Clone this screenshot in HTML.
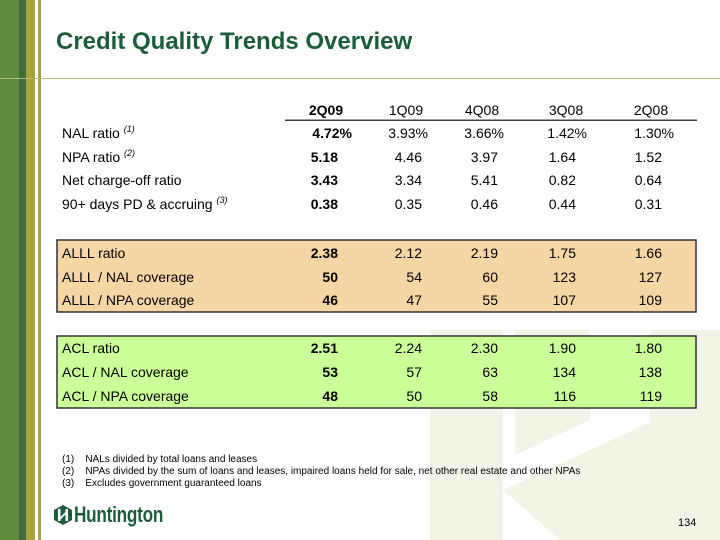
<!DOCTYPE html>
<html><head><meta charset="utf-8"><style>
body{margin:0;}
#s{position:relative;width:720px;height:540px;background:#fff;overflow:hidden;font-family:"Liberation Sans",sans-serif;color:#000;}
.a{position:absolute;white-space:nowrap;}
.r{font-size:14px;line-height:16px;}
.b{font-weight:bold;}
sup{font-size:9px;font-style:italic;vertical-align:6px;line-height:0;}
.fn{font-size:10px;line-height:12px;}
</style></head><body>
<div id="s">
<svg class="a" style="left:0;top:0" width="720" height="540">
<g fill="#f2f4e8">
<polygon points="430,330 503,330 503,540 430,540"/>
<polygon points="515,330 590,330 590,420 515,455"/>
<polygon points="650,330 720,330 720,420 650,455"/>
<polygon points="503,490 720,390 720,540 560,540"/>
</g>
<rect x="0" y="0" width="19" height="540" fill="#5e8b3c"/>
<rect x="19" y="0" width="7" height="540" fill="#3f6e38"/>
<rect x="26" y="0" width="9" height="540" fill="#a6a33c"/>
<rect x="38" y="0" width="3" height="540" fill="#a6a33c"/>
<rect x="0" y="78" width="720" height="1" fill="#b9b97c"/>
<rect x="285" y="119.5" width="412" height="1.5" fill="#444"/>
<rect x="57" y="240" width="639" height="72" fill="#f7d6a6" stroke="#333" stroke-width="1.5"/>
<rect x="57" y="336" width="639" height="72" fill="#ccff99" stroke="#333" stroke-width="1.5"/>
</svg>
<div class="a b" style="left:56px;top:28px;font-size:24px;color:#1d5c3b">Credit Quality Trends Overview</div>
<div id="tbl"></div>
<div class="a fn" style="left:62px;top:454px">(1)&nbsp;&nbsp;&nbsp;&nbsp;NALs divided by total loans and leases</div>
<div class="a fn" style="left:62px;top:466px">(2)&nbsp;&nbsp;&nbsp;&nbsp;NPAs divided by the sum of loans and leases, impaired loans held for sale, net other real estate and other NPAs</div>
<div class="a fn" style="left:62px;top:478px">(3)&nbsp;&nbsp;&nbsp;&nbsp;Excludes government guaranteed loans</div>
<svg class="a" style="left:54px;top:505px" width="18" height="20">
<polygon points="9,0 18,5 18,15 9,20 0,15 0,5" fill="#1d5c3b"/>
<rect x="4" y="4" width="2.5" height="12" fill="#fff"/><rect x="11.5" y="4" width="2.5" height="12" fill="#fff"/>
<polygon points="6.5,12 11.5,7 11.5,9.5 6.5,14.5" fill="#fff"/>
</svg>
<div class="a b" style="left:74px;top:502px;font-size:22px;color:#1d5c3b;letter-spacing:-0.3px;transform:scaleX(0.78);transform-origin:0 0">Huntington</div>
<div class="a" style="left:678px;top:517px;font-size:11px">134</div>
</div>
<script>
const periods=["2Q09","1Q09","4Q08","3Q08","2Q08"];
const rowLabels=["NAL ratio","NPA ratio","Net charge-off ratio","90+ days PD & accruing","ALLL ratio","ALLL / NAL coverage","ALLL / NPA coverage","ACL ratio","ACL / NAL coverage","ACL / NPA coverage"];
const rowNotes=["1","2","","3","","","","","",""];
const values=[
["4.72%","3.93%","3.66%","1.42%","1.30%"],
["5.18","4.46","3.97","1.64","1.52"],
["3.43","3.34","5.41","0.82","0.64"],
["0.38","0.35","0.46","0.44","0.31"],
["2.38","2.12","2.19","1.75","1.66"],
["50","54","60","123","127"],
["46","47","55","107","109"],
["2.51","2.24","2.30","1.90","1.80"],
["53","57","63","134","138"],
["48","50","58","116","119"]];
const rowY=[125,149,172,196,245,269,292,340,364,388];
const colRight=[338,422,498,576,662];
const colPctRight=[352,428,504,587,674];
const hdrCenter=[326,406,482,566,651];
const t=document.getElementById('tbl');
periods.forEach((p,j)=>{
 const d=document.createElement('div');
 
 
 d.className='a r'+(j===0?' b':'');
 d.style.left=(hdrCenter[j]-40)+'px';d.style.width='80px';d.style.textAlign='center';d.style.top='102px';
 d.textContent=p;t.appendChild(d);
});
rowLabels.forEach((l,i)=>{
 const d=document.createElement('div');
 
 
 d.className='a r';d.style.left='62px';d.style.top=rowY[i]+'px';
 d.innerHTML=l.replace('&','&amp;')+(rowNotes[i]?' <sup>('+rowNotes[i]+')</sup>':'');
 t.appendChild(d);
 values[i].forEach((v,j)=>{
  const c=document.createElement('div');
  
  
  c.className='a r'+(j===0?' b':'');
  const rx=v.endsWith('%')?colPctRight[j]:colRight[j];
  c.style.left=(rx-80)+'px';c.style.width='80px';c.style.textAlign='right';c.style.top=rowY[i]+'px';
  c.textContent=v;t.appendChild(c);
 });
});
</script>
</body></html>
